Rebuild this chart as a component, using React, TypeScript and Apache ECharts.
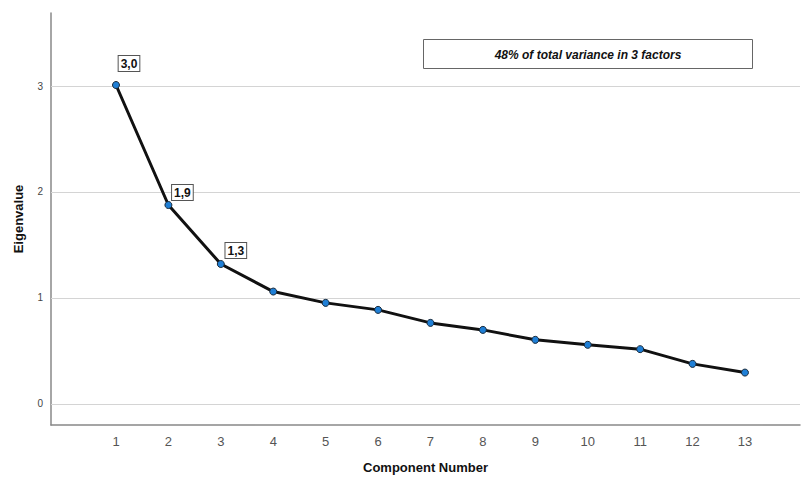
import React, { useEffect, useRef } from "react";
import * as echarts from "echarts";

const components = [1, 2, 3, 4, 5, 6, 7, 8, 9, 10, 11, 12, 13];
const eigenvalues = [3.01, 1.877, 1.32, 1.06, 0.953, 0.887, 0.764, 0.698, 0.604, 0.557, 0.516, 0.377, 0.295];
const labelledCount = 3;
const yTicks = [0, 1, 2, 3];
const annotation = "48% of total variance in 3 factors";

export default function App() {
  const ref = useRef<HTMLDivElement>(null);
  useEffect(() => {
    const chart = echarts.init(ref.current!, null, { renderer: "svg" });
    const labelOffsets = [[13, -5], [14, 4], [15, 3]];
    const data = components.map((c, i) => {
      const item: any = { value: [c, eigenvalues[i]] };
      if (i < labelledCount) {
        item.label = {
          show: true,
          position: "top",
          offset: labelOffsets[i],
          formatter: (p: any) => p.value[1].toFixed(1).replace(".", ","),
          fontFamily: "Liberation Sans, Arial, sans-serif",
          fontWeight: "bold",
          fontSize: 12,
          color: "#111",
          backgroundColor: "#fff",
          borderColor: "#555",
          borderWidth: 1,
          padding: [2, 2, 1, 2],
        };
      }
      return item;
    });
    chart.setOption({
      animation: false,
      backgroundColor: "#fff",
      grid: { left: 51, right: 3, top: 13, bottom: 54, outerBoundsMode: "none", containLabel: false },
      xAxis: {
        type: "value",
        min: -0.24,
        max: 14.05,
        name: "Component Number",
        nameLocation: "middle",
        nameGap: 36,
        nameTextStyle: { fontFamily: "Liberation Sans, Arial, sans-serif", fontWeight: "bold", fontSize: 13, color: "#111" },
        axisLine: { show: true, onZero: false, lineStyle: { color: "#888", width: 1.5 } },
        axisTick: { show: false },
        splitLine: { show: false },
        axisLabel: {
          customValues: components,
          fontFamily: "Liberation Sans, Arial, sans-serif",
          fontSize: 13,
          color: "#555",
          margin: 10,
        },
      },
      yAxis: {
        type: "value",
        min: -0.2,
        max: 3.69,
        name: "Eigenvalue",
        nameLocation: "middle",
        nameGap: 26,
        nameRotate: 90,
        nameTextStyle: { fontFamily: "Liberation Sans, Arial, sans-serif", fontWeight: "bold", fontSize: 13, color: "#111" },
        axisLine: { show: true, onZero: false, lineStyle: { color: "#888", width: 1.5 } },
        axisTick: { show: false },
        splitLine: { show: false },
        axisLabel: {
          customValues: yTicks,
          fontFamily: "Liberation Sans, Arial, sans-serif",
          fontSize: 10,
          color: "#444",
          margin: 8,
        },
      },
      graphic: [
        {
          type: "group",
          left: 423,
          top: 39,
          children: [
            { type: "rect", shape: { x: 0, y: 0, width: 329, height: 29 }, style: { fill: "#fff", stroke: "#666", lineWidth: 1 } },
            {
              type: "text",
              x: 164.5,
              y: 15,
              style: {
                text: annotation,
                fontFamily: "Liberation Sans, Arial, sans-serif",
                fontStyle: "italic",
                fontWeight: "bold",
                fontSize: 12,
                fill: "#111",
                textAlign: "center",
                textVerticalAlign: "middle",
              },
            },
          ],
        },
      ],
      series: [
        {
          type: "line",
          data,
          symbol: "circle",
          symbolSize: 7,
          z: 5,
          lineStyle: { color: "#111", width: 3 },
          itemStyle: { color: "#1f7fd6", borderColor: "#1a2a3a", borderWidth: 1 },
          markLine: {
            silent: true,
            symbol: "none",
            label: { show: false },
            lineStyle: { color: "#d4d4d4", width: 1.2, type: "solid" },
            data: yTicks.map((v) => ({ yAxis: v })),
            z: 1,
          },
        },
      ],
    });
    return () => chart.dispose();
  }, []);
  return <div ref={ref} style={{ width: 803, height: 479, position: "absolute", left: 0, top: 0 }} />;
}
